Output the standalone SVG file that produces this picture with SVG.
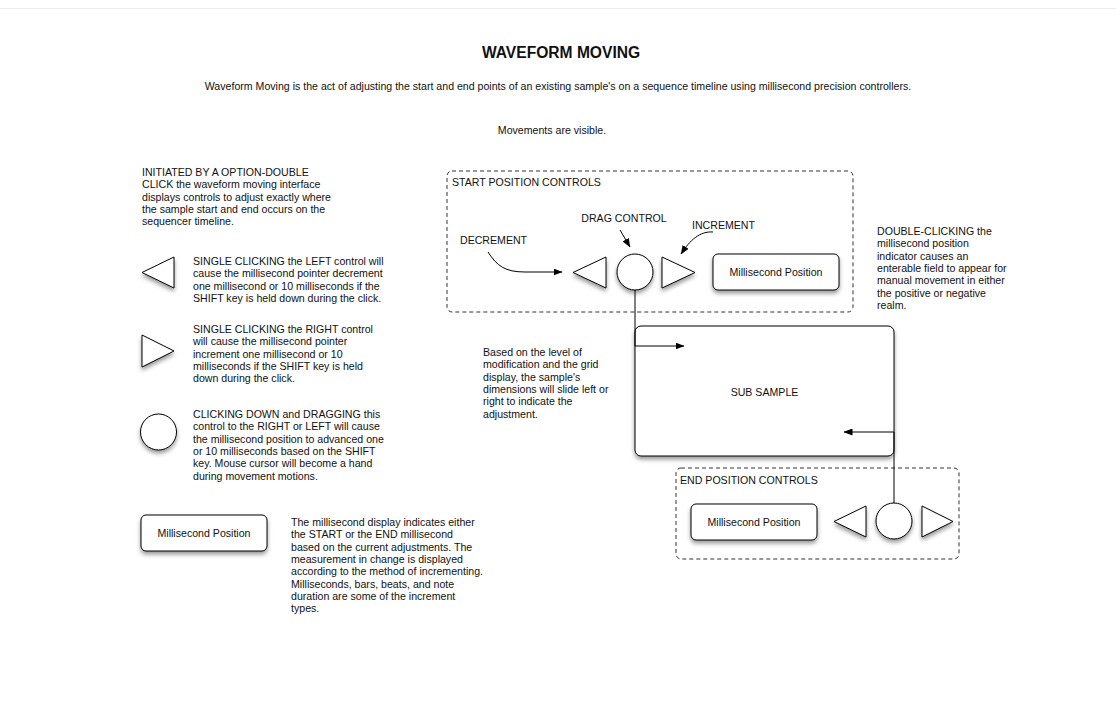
<svg xmlns="http://www.w3.org/2000/svg" width="1116" height="719" viewBox="0 0 1116 719">
<style>
text{font-family:"Liberation Sans",Arial,Helvetica,sans-serif;font-size:10.6px;fill:#111}
.title{font-size:15.6px;font-weight:bold}
.mid{text-anchor:middle}
.shape{fill:#fff;stroke:#000;stroke-width:1;filter:url(#sh)}
.group{fill:none;stroke:#333;stroke-width:1;stroke-dasharray:4,3}
.conn{fill:none;stroke:#000;stroke-width:1}
</style>
<defs>
<filter id="sh" x="-30%" y="-30%" width="160%" height="190%">
<feDropShadow dx="0" dy="3" stdDeviation="2.3" flood-color="#000" flood-opacity="0.4"/>
</filter>
<marker id="ah" markerWidth="9" markerHeight="7" refX="8.5" refY="3.5" orient="auto" markerUnits="userSpaceOnUse">
<path d="M0,0 L9,3.5 L0,7 Z" fill="#000"/>
</marker>
</defs>
<rect width="1116" height="719" fill="#fff"/>
<line x1="0" y1="8.5" x2="1116" y2="8.5" stroke="#ececec" stroke-width="1"/>

<g id="title"><text class="title mid" x="561" y="57.5">WAVEFORM MOVING</text></g>
<g id="subtitle"><text class="mid" x="558" y="90">Waveform Moving is the act of adjusting the start and end points of an existing sample's on a sequence timeline using millisecond precision controllers.</text></g>
<g id="visible-note"><text class="mid" x="552" y="134">Movements are visible.</text></g>

<g id="intro-text"><text x="142" y="176"><tspan x="142" dy="0">INITIATED BY A OPTION-DOUBLE</tspan><tspan x="142" dy="12.3">CLICK the waveform moving interface</tspan><tspan x="142" dy="12.3">displays controls to adjust exactly where</tspan><tspan x="142" dy="12.3">the sample start and end occurs on the</tspan><tspan x="142" dy="12.3">sequencer timeline.</tspan></text></g>

<g id="legend-left">
<polygon class="shape" points="142,272.5 174,257 174,288"/>
<text x="193" y="265"><tspan x="193" dy="0">SINGLE CLICKING the LEFT control will</tspan><tspan x="193" dy="12.3">cause the millisecond pointer decrement</tspan><tspan x="193" dy="12.3">one millisecond or 10 milliseconds if the</tspan><tspan x="193" dy="12.3">SHIFT key is held down during the click.</tspan></text>
</g>

<g id="legend-right">
<polygon class="shape" points="142,335 174,351 142,367"/>
<text x="193" y="333"><tspan x="193" dy="0">SINGLE CLICKING the RIGHT control</tspan><tspan x="193" dy="12.3">will cause the millisecond pointer</tspan><tspan x="193" dy="12.3">increment one millisecond or 10</tspan><tspan x="193" dy="12.3">milliseconds if the SHIFT key is held</tspan><tspan x="193" dy="12.3">down during the click.</tspan></text>
</g>

<g id="legend-drag">
<circle class="shape" cx="158.5" cy="432" r="18"/>
<text x="193" y="418"><tspan x="193" dy="0">CLICKING DOWN and DRAGGING this</tspan><tspan x="193" dy="12.3">control to the RIGHT or LEFT will cause</tspan><tspan x="193" dy="12.3">the millisecond position to advanced one</tspan><tspan x="193" dy="12.3">or 10 milliseconds based on the SHIFT</tspan><tspan x="193" dy="12.3">key. Mouse cursor will become a hand</tspan><tspan x="193" dy="12.3">during movement motions.</tspan></text>
</g>

<g id="legend-ms">
<rect class="shape" x="141" y="515" width="126" height="36" rx="5"/>
<text class="mid" x="204" y="536.5">Millisecond Position</text>
<text x="291" y="526"><tspan x="291" dy="0">The millisecond display indicates either</tspan><tspan x="291" dy="12.3">the START or the END millisecond</tspan><tspan x="291" dy="12.3">based on the current adjustments. The</tspan><tspan x="291" dy="12.3">measurement in change is displayed</tspan><tspan x="291" dy="12.3">according to the method of incrementing.</tspan><tspan x="291" dy="12.3">Milliseconds, bars, beats, and note</tspan><tspan x="291" dy="12.3">duration are some of the increment</tspan><tspan x="291" dy="12.3">types.</tspan></text>
</g>

<g id="start-controls">
<rect class="group" x="447" y="171" width="406" height="141" rx="5"/>
<text x="452" y="185.5">START POSITION CONTROLS</text>
</g>
<g id="start-decrement"><polygon class="shape" points="573,272.5 606,257 606,288"/></g>
<g id="start-drag"><circle class="shape" cx="635" cy="272" r="18"/></g>
<g id="start-increment"><polygon class="shape" points="662,257 695,272.5 662,288"/></g>
<g id="start-ms"><rect class="shape" x="713" y="254" width="126" height="36" rx="5"/><text class="mid" x="776" y="275.5">Millisecond Position</text></g>
<g id="label-decrement"><text x="460" y="244">DECREMENT</text></g>
<g id="label-drag"><text class="mid" x="624" y="222">DRAG CONTROL</text></g>
<g id="label-increment"><text x="692" y="229">INCREMENT</text></g>

<g id="sub-sample">
<rect class="shape" x="635" y="326" width="259" height="130" rx="6"/>
<text class="mid" x="764.5" y="395.5">SUB SAMPLE</text>
</g>

<g id="slide-note"><text x="483" y="356"><tspan x="483" dy="0">Based on the level of</tspan><tspan x="483" dy="12.3">modification and the grid</tspan><tspan x="483" dy="12.3">display, the sample's</tspan><tspan x="483" dy="12.3">dimensions will slide left or</tspan><tspan x="483" dy="12.3">right to indicate the</tspan><tspan x="483" dy="12.3">adjustment.</tspan></text></g>

<g id="double-click-note"><text x="877" y="235"><tspan x="877" dy="0">DOUBLE-CLICKING the</tspan><tspan x="877" dy="12.3">millisecond position</tspan><tspan x="877" dy="12.3">indicator causes an</tspan><tspan x="877" dy="12.3">enterable field to appear for</tspan><tspan x="877" dy="12.3">manual movement in either</tspan><tspan x="877" dy="12.3">the positive or negative</tspan><tspan x="877" dy="12.3">realm.</tspan></text></g>

<g id="end-controls">
<rect class="group" x="676" y="468" width="283" height="91" rx="5"/>
<text x="680" y="484">END POSITION CONTROLS</text>
</g>
<g id="end-ms"><rect class="shape" x="691" y="504" width="126" height="36" rx="5"/><text class="mid" x="754" y="525.5">Millisecond Position</text></g>
<g id="end-decrement"><polygon class="shape" points="834,521.5 866,506 866,537"/></g>
<g id="end-drag"><circle class="shape" cx="894" cy="521" r="18"/></g>
<g id="end-increment"><polygon class="shape" points="922,506 953,521.5 922,537"/></g>

<g id="connectors">
<path class="conn" d="M488,252 C497,266 505,272 525,272 L562,272" marker-end="url(#ah)"/>
<path class="conn" d="M620,230 L630,247" marker-end="url(#ah)"/>
<path class="conn" d="M713,232 C700,231 690,240 681,254" marker-end="url(#ah)"/>
<path class="conn" d="M635,290 L635,346 L684,346" marker-end="url(#ah)"/>
<path class="conn" d="M894,503 L894,432 L844,432" marker-end="url(#ah)"/>
</g>
</svg>
